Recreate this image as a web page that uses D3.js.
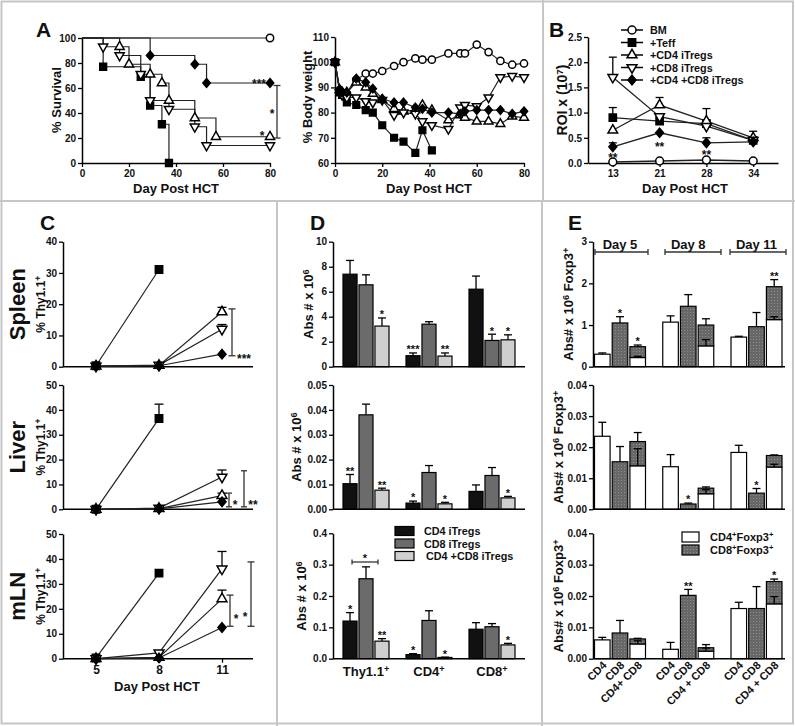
<!DOCTYPE html>
<html><head><meta charset="utf-8">
<script src="https://cdn.jsdelivr.net/npm/d3@7"></script>
<style>
body{margin:0;background:#fff}
svg{display:block}
text{font-family:"Liberation Sans",Arial,sans-serif;font-weight:bold;fill:#111}
</style>
</head><body>
<svg id="c" width="795" height="726"></svg>
<script>
// ================= DATA =================
// Panel A – Kaplan-Meier survival: events [day, % surviving after the drop]
const survBM   = [];
const survTeff = [[9,77],[25,69],[29,46],[34,31],[37,0]];
const survCD4  = [[16,93],[20,79],[29,71],[34,64],[37,50],[48,36],[57,21]];
const survCD8  = [[9,93],[16,86],[25,71],[29,50],[37,43],[48,29],[53,14]];
const survCD48 = [[29,86],[48,79],[53,64]];

// Panel A – body weight
const bwDays = [0,2,3,5,9,13,16,20,25,29,34,37,41,48,53,55,60,65,70,75,80];
const bwBM   = [100,89,88,87.5,93,95.5,95.5,96.5,98.5,100,101.5,101,101,103.5,103.5,103.5,107,104,100.5,99,99.5];
const bwTeff = [100,88,87,84,83,81,80,75,70,68.5,64,73,65,null,null,null,null,null,null,null,null];
const bwCD4  = [100,89,88,88,92,90,87.5,85,81.5,80.5,81,83,81,77,79,78,76.5,76.5,75.5,78.5,78];
const bwCD8  = [100,88,87,86,86,84.5,84,85,79,80,79.5,76.5,75,73.5,82,83,82.5,86,94,94.5,94];
const bwCD48 = [100,89,88,88,93.5,92,89.5,85.5,84,84,82,81.5,80,80,79.5,80.5,81,81,81,79.5,80.5];

// Panel B – ROI x 10^7
const roiDays = ['13','21','28','34'];
const roiBM   = [0.02,0.04,0.06,0.04];
const roiTeff = [0.9,0.83,0.78,0.45];   const roiTeffErr = [0.2,0.09,0.07,0.05];
const roiCD4  = [0.65,1.15,0.83,0.5];   const roiCD4Err  = [0,0.15,0.25,0.13];
const roiCD8  = [1.7,0.92,0.73,0.45];   const roiCD8Err  = [0.4,0.03,0.05,0.05];
const roiCD48 = [0.32,0.6,0.4,0.42];    const roiCD48Err = [0.08,0,0.1,0.05];
const roiSig  = ['**','**','**',''];

// Panel C – % Thy1.1+
const cDays = [5,8,11];
const spleenTeff = [0.3,31.1,null]; const spleenTeffErr = [0,0,0];
const spleenCD4  = [0.2,0.4,17.5];  const spleenCD4Err  = [0,0,1.5];
const spleenCD8  = [0.2,0.5,12];    const spleenCD8Err  = [0,0,1.5];
const spleenCD48 = [0.2,0.3,4];     const spleenCD48Err = [0,0,0];
const liverTeff  = [0,36.5,null];   const liverTeffErr  = [0,5.8,0];
const liverCD4   = [0,0.3,5.5];     const liverCD4Err   = [0,0,1];
const liverCD8   = [0,0.5,13];      const liverCD8Err   = [0,0,2.8];
const liverCD48  = [0,0.2,3];       const liverCD48Err  = [0,0,0];
const mlnTeff    = [0.3,34.3,null]; const mlnTeffErr    = [0,0,0];
const mlnCD4     = [0,0.5,24];      const mlnCD4Err     = [0,0,3.5];
const mlnCD8     = [0,2.3,36];      const mlnCD8Err     = [0,0,7];
const mlnCD48    = [0,0.3,12.5];    const mlnCD48Err    = [0,0,0];

// Panel D – Abs # x 10^6 (rows: Thy1.1+, CD4+, CD8+; cols: CD4, CD8, CD4+CD8 iTregs)
const dGroups = ['Thy1.1','CD4','CD8'];
const dSeries = ['CD4 iTregs','CD8 iTregs','CD4 +CD8 iTregs'];
const dSpleen    = [[7.4,6.55,3.25],[0.88,3.4,0.85],[6.2,2.1,2.15]];
const dSpleenErr = [[1.1,0.8,0.65],[0.22,0.2,0.25],[1.05,0.5,0.4]];
const dSpleenSig = [['','','*'],['***','','**'],['','*','*']];
const dLiver     = [[0.0103,0.038,0.0077],[0.0025,0.0148,0.0022],[0.0072,0.0136,0.0046]];
const dLiverErr  = [[0.0037,0.0043,0.0008],[0.0008,0.0028,0.0006],[0.0026,0.0032,0.0006]];
const dLiverSig  = [['**','','**'],['*','','*'],['','','*']];
const dMln       = [[0.12,0.255,0.056],[0.013,0.122,0.004],[0.094,0.102,0.044]];
const dMlnErr    = [[0.027,0.038,0.008],[0.003,0.031,0.001],[0.021,0.01,0.005]];
const dMlnSig    = [['*','','**'],['*','','*'],['','','*']];

// Panel E – Abs# x 10^6 Foxp3+ (Day 5, Day 8, Day 11)
const eDays = ['Day 5','Day 8','Day 11'];
const eBarLabels = [['CD4','CD8','CD4+ CD8'],['CD4','CD8','CD4 + CD8'],['CD4','CD8','CD4 + CD8']];
const eSpleenCD4 = [0.3,1.07,0.71];      const eSpleenCD4Err = [0.03,0.15,0.02];
const eSpleenCD8 = [1.05,1.45,0.96];     const eSpleenCD8Err = [0.15,0.28,0.34];
const eSpleenMix4 = [0.22,0.5,1.13];     const eSpleenMix4Err = [0.03,0.15,0.07];
const eSpleenMixT = [0.48,1.0,1.92];     const eSpleenMixTErr = [0.04,0.15,0.17];
const eSpleenSig = [['','*','*'],['','',''],['','','**']];
const eLiverCD4 = [0.0235,0.0137,0.0183]; const eLiverCD4Err = [0.0045,0.0039,0.0023];
const eLiverCD8 = [0.0153,0.0017,0.0052]; const eLiverCD8Err = [0.0049,0.0003,0.0015];
const eLiverMix4 = [0.014,0.005,0.0136];  const eLiverMix4Err = [0.0055,0.0013,0.0009];
const eLiverMixT = [0.0218,0.0068,0.0173];const eLiverMixTErr = [0.0029,0.0004,0.0002];
const eLiverSig = [['','',''],['','*',''],['','*','']];
const eMlnCD4 = [0.006,0.003,0.016];      const eMlnCD4Err = [0.0008,0.0022,0.002];
const eMlnCD8 = [0.0082,0.0202,0.016];    const eMlnCD8Err = [0.004,0.0019,0.007];
const eMlnMix4 = [0.0047,0.0024,0.0175];  const eMlnMix4Err = [0.001,0.001,0.0023];
const eMlnMixT = [0.0063,0.0035,0.0246];  const eMlnMixTErr = [0.0002,0.001,0.0008];
const eMlnSig = [['','',''],['','**',''],['','','*']];

// ================= HELPERS =================
const svg = d3.select('#c');
const FONT = '"Liberation Sans", Arial, sans-serif';
const defs = svg.append('defs');
const pat = defs.append('pattern').attr('id','dots').attr('width',3).attr('height',3).attr('patternUnits','userSpaceOnUse');
pat.append('rect').attr('width',3).attr('height',3).attr('fill','#676767');
pat.append('rect').attr('width',1).attr('height',1).attr('fill','#8e8e8e');

const diamondType = { draw(ctx, size){ const r=Math.sqrt(size)/2; ctx.moveTo(0,-r*1.18); ctx.lineTo(r,0); ctx.lineTo(0,r*1.18); ctx.lineTo(-r,0); ctx.closePath(); } };
const symTypes = {circle:d3.symbolCircle, square:d3.symbolSquare, up:d3.symbolTriangle, down:d3.symbolTriangle, diamond:diamondType};
const symSize = {circle:48, square:52, up:40, down:40, diamond:62};
function sym(g, type, x, y, k){
  k = k || 1;
  const filled = (type==='square'||type==='diamond');
  g.append('path').attr('d', d3.symbol(symTypes[type], symSize[type]*k)())
    .attr('transform', `translate(${x},${y})` + (type==='down'?' rotate(180)':''))
    .attr('fill', filled?'#000':'#fff').attr('stroke','#000').attr('stroke-width',1.5);
}
function styleAxis(g, fs){
  g.attr('font-family', null).attr('font-size', null);
  g.select('.domain').attr('stroke','#000').attr('stroke-width',1.5);
  g.selectAll('.tick line').attr('stroke','#000').attr('stroke-width',1.3);
  g.selectAll('.tick text').attr('font-size', fs||10).style('font-family',FONT).attr('font-weight','bold').attr('fill','#111');
}
function yAxis(scale, x, ticks, fmt, fs){
  const g = svg.append('g').attr('transform',`translate(${x},0)`)
    .call(d3.axisLeft(scale).tickValues(ticks).tickFormat(fmt||(d=>d)).tickSize(4).tickSizeOuter(0).tickPadding(2));
  styleAxis(g, fs); return g;
}
function xAxis(scale, y, ticks, fmt, fs){
  const g = svg.append('g').attr('transform',`translate(0,${y})`)
    .call(d3.axisBottom(scale).tickValues(ticks).tickFormat(fmt||(d=>d)).tickSize(4).tickSizeOuter(0).tickPadding(3));
  styleAxis(g, fs); return g;
}
function hline(x0,x1,y,w){ svg.append('line').attr('x1',x0).attr('x2',x1).attr('y1',y).attr('y2',y).attr('stroke','#000').attr('stroke-width',w||1.5); }
function text(x,y,s,fs,anchor,g){
  return (g||svg).append('text').attr('x',x).attr('y',y).attr('font-size',fs).attr('text-anchor',anchor||'start').text(s);
}
// rich text: parts = [[string, isSup]]
function rich(x,y,parts,fs,rot,anchor){
  const t = svg.append('text').attr('font-size',fs).attr('text-anchor',anchor||'middle')
    .attr('transform',`translate(${x},${y})` + (rot?` rotate(${rot})`:''));
  parts.forEach(([s,sup])=>{
    const ts = t.append('tspan').text(s);
    if(sup){ ts.attr('font-size',fs*0.7).attr('baseline-shift','45%'); }
  });
  return t;
}
function star(x, yc, s, fs){
  fs = fs||11;
  svg.append('text').attr('x',x).attr('y',yc + fs*0.58).attr('font-size',fs).attr('text-anchor','middle').attr('fill','#333').text(s);
}
function errUp(x, y0, y1, cap, w){
  const g = svg.append('g').attr('stroke','#000').attr('stroke-width',w||1.3);
  g.append('line').attr('x1',x).attr('x2',x).attr('y1',y0).attr('y2',y1);
  g.append('line').attr('x1',x-cap/2).attr('x2',x+cap/2).attr('y1',y1).attr('y2',y1);
}
function vbracket(x, y0, y1, cap){
  const g = svg.append('g').attr('stroke','#333').attr('stroke-width',1.3);
  g.append('line').attr('x1',x).attr('x2',x).attr('y1',y0).attr('y2',y1);
  g.append('line').attr('x1',x-cap/2).attr('x2',x+cap/2).attr('y1',y0).attr('y2',y0);
  g.append('line').attr('x1',x-cap/2).attr('x2',x+cap/2).attr('y1',y1).attr('y2',y1);
}
function hbracket(x0, x1, y, cap){
  const g = svg.append('g').attr('stroke','#333').attr('stroke-width',1.3);
  g.append('line').attr('x1',x0).attr('x2',x1).attr('y1',y).attr('y2',y);
  g.append('line').attr('x1',x0).attr('x2',x0).attr('y1',y-cap/2).attr('y2',y+cap/2);
  g.append('line').attr('x1',x1).attr('x2',x1).attr('y1',y-cap/2).attr('y2',y+cap/2);
}

// ================= FRAME =================
const fr = svg.append('g').attr('stroke','#c6c6c6').attr('stroke-width',2).attr('fill','none');
fr.append('rect').attr('x',1.5).attr('y',1.5).attr('width',791.5).attr('height',722);
fr.append('line').attr('x1',0).attr('x2',795).attr('y1',201).attr('y2',201);
fr.append('line').attr('x1',543).attr('x2',543).attr('y1',0).attr('y2',201);
fr.append('line').attr('x1',277).attr('x2',277).attr('y1',201).attr('y2',726);
fr.append('line').attr('x1',542).attr('x2',542).attr('y1',201).attr('y2',726);

// ================= PANEL A: survival =================
text(36,37,'A',21);
const xS = d3.scaleLinear().domain([0,80]).range([82,270]);
const yS = d3.scaleLinear().domain([0,100]).range([163,38]);
yAxis(yS, 82, [0,20,40,60,80,100]);
xAxis(xS, 163, [0,20,40,60,80]);
rich(61,100,[['% Survival']],13,-90);
text(176,193,'Day Post HCT',13,'middle');
function kmPts(ev){ const p=[[0,100]]; let cur=100; ev.forEach(([d,v])=>{p.push([d,cur]);p.push([d,v]);cur=v;}); if(cur>0)p.push([80,cur]); return p; }
const survSeries = [
  {ev:survBM,t:'circle'},{ev:survTeff,t:'square'},{ev:survCD4,t:'up'},{ev:survCD8,t:'down'},{ev:survCD48,t:'diamond'}];
const lineS = d3.line().x(d=>xS(d[0])).y(d=>yS(d[1]));
survSeries.forEach(s=>{
  svg.append('path').attr('d',lineS(kmPts(s.ev))).attr('fill','none').attr('stroke','#222').attr('stroke-width',1.2);
});
const gS = svg.append('g');
survSeries.forEach(s=>{
  s.ev.forEach(([d,v])=>sym(gS,s.t,xS(d),yS(v),0.9));
  const last = s.ev.length? s.ev[s.ev.length-1][1] : 100;
  if(last>0) sym(gS,s.t,xS(80),yS(last),0.9);
});
star(259,81,'***',12);
star(262,133,'*',12);
vbracket(277, yS(62), yS(20), 7);
star(272,111,'*',12);

// ================= PANEL A: body weight =================
const xW = d3.scaleLinear().domain([0,80]).range([335,524]);
const yW = d3.scaleLinear().domain([60,110]).range([163,37]);
yAxis(yW, 335, [60,70,80,90,100,110]);
xAxis(xW, 163, [0,20,40,60,80]);
rich(312,97,[['% Body weight']],13,-90);
text(429,193,'Day Post HCT',13,'middle');
const bwSeries = [{v:bwBM,t:'circle'},{v:bwTeff,t:'square'},{v:bwCD4,t:'up'},{v:bwCD8,t:'down'},{v:bwCD48,t:'diamond'}];
const lineW = d3.line().defined(d=>d[1]!=null).x(d=>xW(d[0])).y(d=>yW(d[1]));
bwSeries.forEach(s=>{
  svg.append('path').attr('d',lineW(bwDays.map((d,i)=>[d,s.v[i]]))).attr('fill','none').attr('stroke','#222').attr('stroke-width',1.2);
});
const gW = svg.append('g');
bwSeries.forEach(s=>{ bwDays.forEach((d,i)=>{ if(s.v[i]!=null) sym(gW,s.t,xW(d),yW(s.v[i]),0.85); }); });

// ================= PANEL B =================
text(549,37,'B',21);
const xB = d3.scalePoint().domain(roiDays).range([588,778]).padding(0.53);
const yB = d3.scaleLinear().domain([0,2.5]).range([163,37]);
yAxis(yB, 588, [0,0.5,1,1.5,2,2.5], d3.format('.1f'));
xAxis(xB, 163, roiDays);
rich(567,100,[['ROI x (10'],['7',true],[')']],14,-90);
text(685,193,'Day Post HCT',13,'middle');
const roiSeries = [
  {v:roiBM,e:null,t:'circle',n:'BM'},
  {v:roiTeff,e:roiTeffErr,t:'square',n:'+Teff'},
  {v:roiCD4,e:roiCD4Err,t:'up',n:'+CD4 iTregs'},
  {v:roiCD8,e:roiCD8Err,t:'down',n:'+CD8 iTregs'},
  {v:roiCD48,e:roiCD48Err,t:'diamond',n:'+CD4 +CD8 iTregs'}];
const lineB = d3.line().x(d=>xB(d[0])).y(d=>yB(d[1]));
roiSeries.forEach(s=>{
  if(s.e) roiDays.forEach((d,i)=>{ if(s.e[i]>0) errUp(xB(d), yB(s.v[i]), yB(s.v[i]+s.e[i]), 8); });
  svg.append('path').attr('d',lineB(roiDays.map((d,i)=>[d,s.v[i]]))).attr('fill','none').attr('stroke','#222').attr('stroke-width',1.3);
});
const gB = svg.append('g');
roiSeries.forEach(s=>roiDays.forEach((d,i)=>sym(gB,s.t,xB(d),yB(s.v[i]),1)));
const roiSigY = [155,144,152];
roiSig.forEach((s,i)=>{ if(s) star(xB(roiDays[i]), roiSigY[i], s, 12); });
const legY = [30,42.5,55,67.5,80];
roiSeries.forEach((s,i)=>{
  svg.append('line').attr('x1',621).attr('x2',643).attr('y1',legY[i]).attr('y2',legY[i]).attr('stroke','#000').attr('stroke-width',1.5);
  sym(svg,s.t,632,legY[i],1.05);
  text(650,legY[i]+4,s.n,10.8);
});

// ================= PANEL C =================
text(40,230,'C',21);
const xC = d3.scaleLinear().domain([5,11]).range([96,222]);
const cPanels = [
  {name:'Spleen', y:d3.scaleLinear().domain([0,40]).range([366.7,241.7]), ticks:[0,10,20,30,40],
   s:[[spleenTeff,spleenTeffErr,'square'],[spleenCD4,spleenCD4Err,'up'],[spleenCD8,spleenCD8Err,'down'],[spleenCD48,spleenCD48Err,'diamond']]},
  {name:'Liver', y:d3.scaleLinear().domain([0,50]).range([509.3,385]), ticks:[0,10,20,30,40,50],
   s:[[liverTeff,liverTeffErr,'square'],[liverCD4,liverCD4Err,'up'],[liverCD8,liverCD8Err,'down'],[liverCD48,liverCD48Err,'diamond']]},
  {name:'mLN', y:d3.scaleLinear().domain([0,50]).range([658.7,534]), ticks:[0,10,20,30,40,50],
   s:[[mlnTeff,mlnTeffErr,'square'],[mlnCD4,mlnCD4Err,'up'],[mlnCD8,mlnCD8Err,'down'],[mlnCD48,mlnCD48Err,'diamond']]}];
const lineC = d3.line().defined(d=>d[1]!=null);
cPanels.forEach((p,pi)=>{
  yAxis(p.y, 63, p.ticks);
  hline(63,253,p.y(0));
  const mid = (p.y.range()[0]+p.y.range()[1])/2;
  rich(25,mid,[[p.name]],22,-90);
  rich(45,mid,[['% Thy1.1'],['+',true]],12,-90);
  p.s.forEach(([v,e])=>{
    cDays.forEach((d,i)=>{ if(v[i]!=null && e[i]>0) errUp(xC(d),p.y(v[i]),p.y(v[i]+e[i]),9); });
    svg.append('path').attr('d',lineC.x(d=>xC(d[0])).y(d=>p.y(d[1]))(cDays.map((d,i)=>[d,v[i]])))
      .attr('fill','none').attr('stroke','#222').attr('stroke-width',1.2);
  });
  const g = svg.append('g');
  p.s.forEach(([v,e,t])=>cDays.forEach((d,i)=>{ if(v[i]!=null) sym(g,t,xC(d),p.y(v[i]),1.05); }));
});
{
  const [ps,pl,pm] = cPanels.map(p=>p.y);
  vbracket(232, ps(18.5), ps(3.5), 7); star(244,356,'***',12);
  vbracket(229, pl(6.5), pl(1), 6); star(235,502,'*',12);
  vbracket(244, pl(15.5), pl(1), 6); star(253,502,'**',12);
  vbracket(230, pm(25.5), pm(13), 7); star(236,616,'*',12);
  vbracket(251, pm(38.8), pm(13), 7); star(245,614,'*',12);
}
{
  const g = svg.append('g').attr('transform',`translate(0,${cPanels[2].y(0)})`)
    .call(d3.axisBottom(xC).tickValues(cDays).tickFormat(d3.format('d')).tickSize(4).tickSizeOuter(0).tickPadding(3));
  g.select('.domain').remove();
  styleAxis(g, 12);
}
text(157,691,'Day Post HCT',13,'middle');

// ================= PANEL D =================
text(310,230,'D',21);
const xD = d3.scalePoint().domain(dGroups).range([366,492]);
const xDi = d3.scaleBand().domain([0,1,2]).range([-23,23]).paddingInner(0.12);
const dColors = ['#111111','#6b6b6b','#cfcfcf'];
const dPanels = [
  {y:d3.scaleLinear().domain([0,10]).range([366.7,241.7]), ticks:[0,2,4,6,8,10], fmt:d=>d, v:dSpleen, e:dSpleenErr, s:dSpleenSig, lx:313},
  {y:d3.scaleLinear().domain([0,0.05]).range([509.3,385]), ticks:[0,0.01,0.02,0.03,0.04,0.05], fmt:d3.format('.2f'), v:dLiver, e:dLiverErr, s:dLiverSig, lx:301},
  {y:d3.scaleLinear().domain([0,0.4]).range([658.7,533.3]), ticks:[0,0.1,0.2,0.3,0.4], fmt:d3.format('.1f'), v:dMln, e:dMlnErr, s:dMlnSig, lx:306}];
dPanels.forEach(p=>{
  yAxis(p.y, 333, p.ticks, p.fmt);
  const mid = (p.y.range()[0]+p.y.range()[1])/2;
  rich(p.lx,mid,[['Abs # x 10'],['6',true]],13,-90);
  dGroups.forEach((gname,gi)=>{
    dSeries.forEach((sn,si)=>{
      const x0 = xD(gname)+xDi(si), w = xDi.bandwidth(), cx = x0+w/2;
      const val = p.v[gi][si], err = p.e[gi][si];
      errUp(cx, p.y(val), p.y(val+err), 8);
      svg.append('rect').attr('x',x0).attr('y',p.y(val)).attr('width',w).attr('height',p.y(0)-p.y(val))
        .attr('fill',dColors[si]).attr('stroke','#000').attr('stroke-width',1.2);
      if(p.s[gi][si]) star(cx, p.y(val+err)-6, p.s[gi][si], 11);
    });
  });
  hline(333,525,p.y(0));
});
{
  const xa = xD('Thy1.1')+xDi(0)+xDi.bandwidth()/2+2, xb = xD('Thy1.1')+xDi(2)+xDi.bandwidth()/2-4;
  hbracket(xa, xb, 562, 5);
  star((xa+xb)/2, 556, '*', 11);
  dGroups.forEach(gn=>rich(xD(gn), 676, [[gn],['+',true]], 13, 0));
  const ly = [531,543.5,556];
  dSeries.forEach((sn,si)=>{
    svg.append('rect').attr('x',395).attr('y',ly[si]-4.5).attr('width',19).attr('height',9)
      .attr('fill',dColors[si]).attr('stroke','#000').attr('stroke-width',1.2);
    text(si===2?426:424, ly[si]+4, sn, 10.8);
  });
}

// ================= PANEL E =================
text(568,230,'E',21);
const xE = d3.scalePoint().domain(eDays).range([620,756.5]);
const xEi = d3.scaleBand().domain([0,1,2]).range([-25.5,25.5]).paddingInner(0.12);
const ePanels = [
  {y:d3.scaleLinear().domain([0,3]).range([366.7,241.7]), ticks:[0,1,2,3], fmt:d=>d, lx:573,
   c4:eSpleenCD4,c4e:eSpleenCD4Err,c8:eSpleenCD8,c8e:eSpleenCD8Err,m4:eSpleenMix4,m4e:eSpleenMix4Err,mt:eSpleenMixT,mte:eSpleenMixTErr,sig:eSpleenSig},
  {y:d3.scaleLinear().domain([0,0.04]).range([509.3,385]), ticks:[0,0.01,0.02,0.03,0.04], fmt:d3.format('.2f'), lx:563,
   c4:eLiverCD4,c4e:eLiverCD4Err,c8:eLiverCD8,c8e:eLiverCD8Err,m4:eLiverMix4,m4e:eLiverMix4Err,mt:eLiverMixT,mte:eLiverMixTErr,sig:eLiverSig},
  {y:d3.scaleLinear().domain([0,0.04]).range([658.7,533.3]), ticks:[0,0.01,0.02,0.03,0.04], fmt:d3.format('.2f'), lx:563,
   c4:eMlnCD4,c4e:eMlnCD4Err,c8:eMlnCD8,c8e:eMlnCD8Err,m4:eMlnMix4,m4e:eMlnMix4Err,mt:eMlnMixT,mte:eMlnMixTErr,sig:eMlnSig}];
function ebar(x0,w,y0,y1,fill){
  svg.append('rect').attr('x',x0).attr('y',Math.min(y0,y1)).attr('width',w).attr('height',Math.abs(y0-y1))
    .attr('fill',fill).attr('stroke','#000').attr('stroke-width',1.2);
}
ePanels.forEach(p=>{
  yAxis(p.y, 593, p.ticks, p.fmt);
  const mid = (p.y.range()[0]+p.y.range()[1])/2;
  rich(p.lx,mid,[['Abs# x 10'],['6',true],[' Foxp3'],['+',true]],13,-90);
  const w = xEi.bandwidth();
  eDays.forEach((dn,gi)=>{
    const base = xE(dn);
    let x0 = base+xEi(0);
    errUp(x0+w/2, p.y(p.c4[gi]), p.y(p.c4[gi]+p.c4e[gi]), 8);
    ebar(x0,w,p.y(0),p.y(p.c4[gi]),'#fff');
    x0 = base+xEi(1);
    errUp(x0+w/2, p.y(p.c8[gi]), p.y(p.c8[gi]+p.c8e[gi]), 8);
    ebar(x0,w,p.y(0),p.y(p.c8[gi]),'url(#dots)');
    if(p.sig[gi][1]) star(x0+w/2, p.y(p.c8[gi]+p.c8e[gi])-6, p.sig[gi][1], 11);
    x0 = base+xEi(2);
    errUp(x0+w/2, p.y(p.mt[gi]), p.y(p.mt[gi]+p.mte[gi]), 8);
    ebar(x0,w,p.y(0),p.y(p.m4[gi]),'#fff');
    ebar(x0,w,p.y(p.m4[gi]),p.y(p.mt[gi]),'url(#dots)');
    errUp(x0+w/2, p.y(p.m4[gi]), p.y(p.m4[gi]+p.m4e[gi]), 8);
    if(p.sig[gi][2]) star(x0+w/2, p.y(p.mt[gi]+p.mte[gi])-6, p.sig[gi][2], 11);
  });
  hline(593,785,p.y(0));
});
const eBr = [[595,648],[665,721],[730,786]];
eDays.forEach((dn,i)=>{
  hbracket(eBr[i][0], eBr[i][1], 252, 6);
  text(xE(dn), 249, dn, 13, 'middle');
});
eDays.forEach((dn,gi)=>{
  [0,1,2].forEach(si=>{
    const cx = xE(dn)+xEi(si)+xEi.bandwidth()/2;
    svg.append('text').attr('font-size',11).attr('text-anchor','end')
      .attr('transform',`translate(${cx+5},${666}) rotate(-45)`).text(eBarLabels[gi][si]);
  });
});
{
  const ly = [537,550];
  const fills = ['#fff','url(#dots)'];
  const labs = [[['CD4'],['+',true],['Foxp3'],['+',true]],[['CD8'],['+',true],['Foxp3'],['+',true]]];
  ly.forEach((y,i)=>{
    svg.append('rect').attr('x',682).attr('y',y-5).attr('width',17).attr('height',10).attr('fill',fills[i]).attr('stroke','#000').attr('stroke-width',1.2);
    rich(710, y+4, labs[i], 11, 0, 'start');
  });
}
</script>
</body></html>
